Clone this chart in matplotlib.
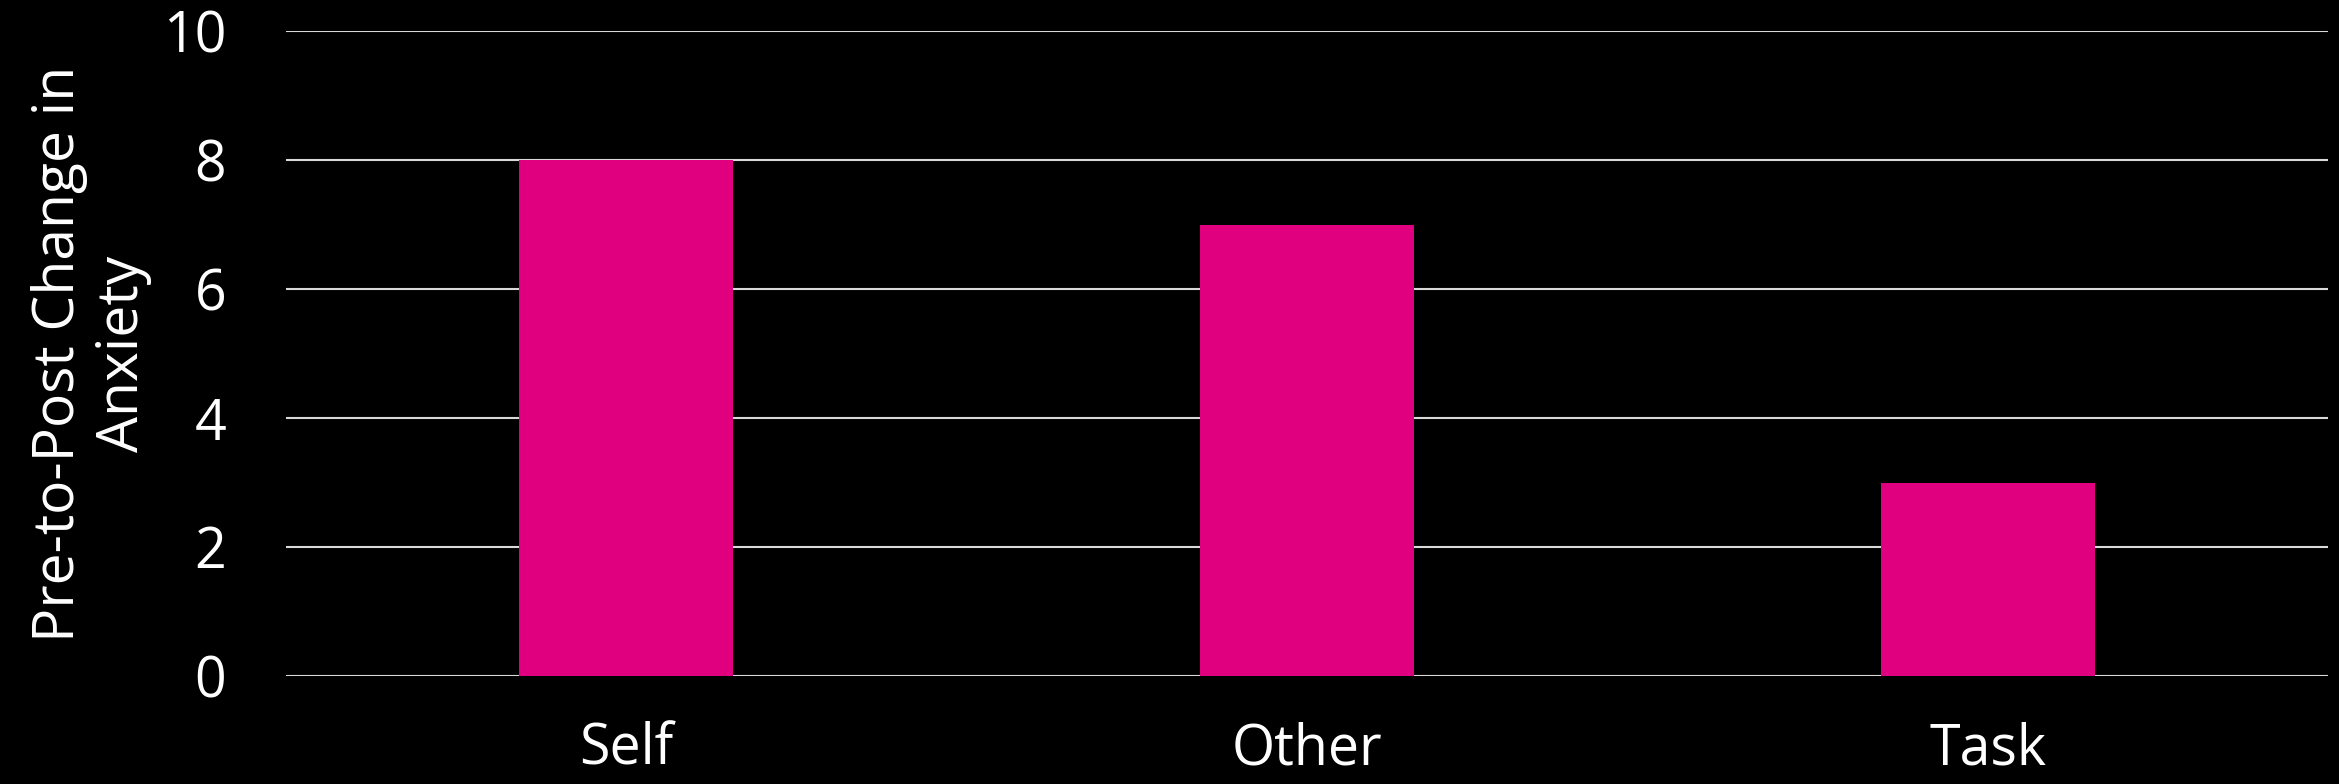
import matplotlib.pyplot as plt
import numpy as np

categories = ['Self', 'Other', 'Task']
anxiety_change = [8, 7, 3]
y_ticks = [0, 2, 4, 6, 8, 10]

plt.rcParams['font.family'] = ['Open Sans', 'DejaVu Sans']

fig = plt.figure(figsize=(23.39, 7.84), dpi=100, facecolor='black')
# axes placed in figure pixels: left 286, right 2328, top 31, bottom 676
ax = fig.add_axes([286 / 2339, 1 - 676 / 784, (2328 - 286) / 2339, (676 - 31) / 784])
ax.set_facecolor('black')

x = np.arange(len(categories))
ax.bar(x, anxiety_change, width=0.314, color='#E0007F', zorder=3)

ax.set_xlim(-0.5, len(categories) - 0.5)
ax.set_ylim(0, 10)
ax.set_yticks(y_ticks)
ax.set_xticks(x)
ax.set_xticklabels(categories)

ax.grid(axis='y', color='#D9D9D9', linewidth=1.5, zorder=1)
ax.set_axisbelow(True)
for s in ax.spines.values():
    s.set_visible(False)

ax.tick_params(axis='y', length=0, pad=43, labelsize=40, labelcolor='white')
ax.tick_params(axis='x', length=0, pad=33, labelsize=40, labelcolor='white')

ax.set_ylabel('Pre-to-Post Change in\nAnxiety', fontsize=41, color='white',
              linespacing=1.15, labelpad=8)

fig.savefig('out.png', dpi=100, facecolor='black')
